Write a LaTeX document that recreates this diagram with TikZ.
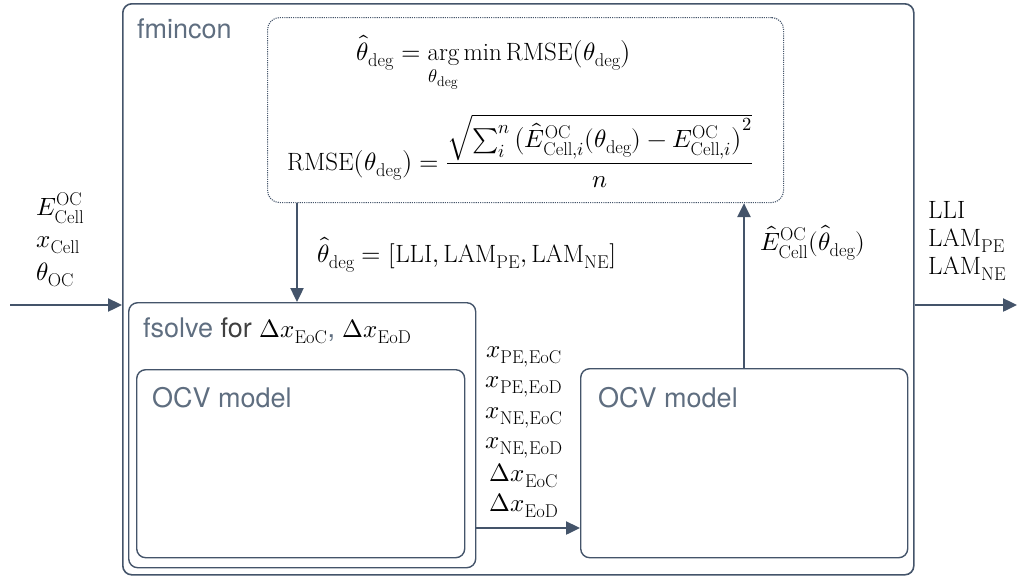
\documentclass[tikz,border=0pt]{standalone}
\usepackage{fontspec}
\usepackage{unicode-math}
\setsansfont{TeX Gyre Heros}
\usetikzlibrary{arrows.meta}
% larger script sizes for the formula text
\DeclareMathSizes{25}{25}{18.5}{14}

\definecolor{slate}{HTML}{44546A}
\definecolor{labelgray}{HTML}{5F6E80}
\definecolor{forgray}{HTML}{404040}

\newcommand{\rmsub}[1]{\mathrm{#1}}

\begin{document}
\begin{tikzpicture}[x=1pt,y=-1pt,
  blockbox/.style={draw=slate, line width=1.6pt, rounded corners=9pt, inner sep=0pt, anchor=north west},
  formulabox/.style={draw=slate, line width=1.1pt, dash pattern=on 1.1pt off 1.1pt, rounded corners=12pt, inner sep=0pt, anchor=north west},
  flow/.style={draw=slate, line width=2.4pt, -{Triangle[length=14pt,width=13pt]}},
  boxlabel/.style={inner sep=0pt, anchor=base west, font=\fontsize{27}{32}\sffamily, text=labelgray},
  mathlabel/.style={inner sep=0pt, font=\fontsize{25}{30}\selectfont, text=black},
]
\useasboundingbox (0,0) rectangle (1024,576);

% blocks
\node[blockbox, minimum width=791pt, minimum height=571pt] (fmin) at (122,3) {};
\node[formulabox, minimum width=516pt, minimum height=185pt] (obj) at (267,17) {};
\node[blockbox, line width=1.4pt, minimum width=347pt, minimum height=265pt] (fsolve) at (128,302) {};
\node[blockbox, line width=1.4pt, minimum width=328pt, minimum height=188pt] (ocvL) at (136,369) {};
\node[blockbox, line width=1.4pt, minimum width=327pt, minimum height=189pt] (ocvR) at (580,368) {};

% block titles
\node[boxlabel] (tfmin) at (137,38) {fmincon};
\node[boxlabel] (tfsolve) at (143,337) {fsolve \textcolor{forgray}{for} {\fontsize{25}{30}\selectfont$\textcolor{black}{\Delta x_{\rmsub{EoC}}}$}, {\fontsize{25}{30}\selectfont$\textcolor{black}{\Delta x_{\rmsub{EoD}}}$}};
\node[boxlabel] (tocvL) at (152,407) {OCV model};
\node[boxlabel] (tocvR) at (598,407) {OCV model};

% objective
\node[mathlabel, anchor=base] (eq1) at (494,60)
  {$\hat{\theta}_{\rmsub{deg}} = \mathop{\mathrm{arg}}\limits_{\theta_{\rmsub{deg}}}\min \mathrm{RMSE}\big(\theta_{\rmsub{deg}}\big)$};
\node[mathlabel, anchor=base west] (eq2) at (287,170)
  {$\displaystyle \mathrm{RMSE}\big(\theta_{\rmsub{deg}}\big) = \frac{\sqrt{\textstyle\sum_i^n\big(\hat{E}^{\rmsub{OC}}_{\rmsub{Cell},i}(\theta_{\rmsub{deg}}) - E^{\rmsub{OC}}_{\rmsub{Cell},i}\big)^2}}{n}$};

% inputs
\node[mathlabel, anchor=base west] (inE) at (36,215) {$E^{\rmsub{OC}}_{\rmsub{Cell}}$};
\node[mathlabel, anchor=base west] (inx) at (36,247) {$x_{\rmsub{Cell}}$};
\node[mathlabel, anchor=base west] (inth) at (36,280) {$\theta_{\rmsub{OC}}$};

% outputs
\node[mathlabel, anchor=base west] (oLLI) at (928,218) {$\mathrm{LLI}$};
\node[mathlabel, anchor=base west] (oPE) at (928,246) {$\mathrm{LAM}_{\rmsub{PE}}$};
\node[mathlabel, anchor=base west] (oNE) at (928,274) {$\mathrm{LAM}_{\rmsub{NE}}$};

% transferred quantities
\node[mathlabel, anchor=base] (v1) at (524,357) {$x_{\rmsub{PE,EoC}}$};
\node[mathlabel, anchor=base] (v2) at (524,387) {$x_{\rmsub{PE,EoD}}$};
\node[mathlabel, anchor=base] (v3) at (524,418) {$x_{\rmsub{NE,EoC}}$};
\node[mathlabel, anchor=base] (v4) at (524,448) {$x_{\rmsub{NE,EoD}}$};
\node[mathlabel, anchor=base] (v5) at (524,481) {$\Delta x_{\rmsub{EoC}}$};
\node[mathlabel, anchor=base] (v6) at (524,511) {$\Delta x_{\rmsub{EoD}}$};

\node[mathlabel, anchor=base west] (ltheta) at (317,262)
  {$\hat{\theta}_{\rmsub{deg}} = [\mathrm{LLI}, \mathrm{LAM}_{\rmsub{PE}}, \mathrm{LAM}_{\rmsub{NE}}]$};
\node[mathlabel, anchor=base west] (lE) at (760,250)
  {$\hat{E}^{\rmsub{OC}}_{\rmsub{Cell}}(\hat{\theta}_{\rmsub{deg}})$};

% connectors
\coordinate (src) at (10,305);
\coordinate (dst) at (1017,305);
\coordinate (downx) at (297,0);
\coordinate (upx) at (744,0);
\coordinate (passy) at (0,528);

\draw[flow] (src) -- (src -| fmin.west);
\draw[flow] (dst -| fmin.east) -- (dst);
\draw[flow] (obj.south -| downx) -- (fsolve.north -| downx);
\draw[flow] (ocvR.north -| upx) -- (obj.south -| upx);
\draw[flow] (fsolve.east |- passy) -- (ocvR.west |- passy);
\end{tikzpicture}
\end{document}
